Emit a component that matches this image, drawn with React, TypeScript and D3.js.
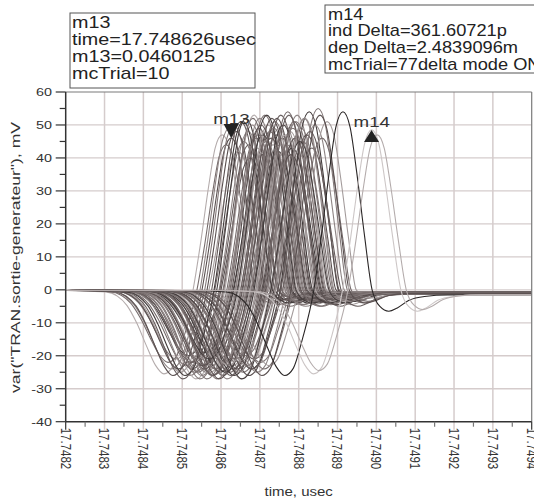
import React from 'react'
import * as d3 from 'd3'

const W = 534
const H = 501
const PLOT = { left: 65.7, right: 531.7, top: 92, bottom: 421.7 }
const FONT = 'Liberation Sans, Arial, sans-serif'

const X_TICKS = [17.7482, 17.7483, 17.7484, 17.7485, 17.7486, 17.7487, 17.7488, 17.7489, 17.749, 17.7491, 17.7492, 17.7493, 17.7494]
const X_LABELS = ['17.7482', '17.7483', '17.7484', '17.7485', '17.7486', '17.7487', '17.7488', '17.7489', '17.7490', '17.7491', '17.7492', '17.7493', '17.7494']
const Y_TICKS = [-40, -30, -20, -10, 0, 10, 20, 30, 40, 50, 60]

// pulse shape, ps relative to its peak, mV
const PULSE_PS = [-400, -300, -270, -245, -220, -195, -172, -150, -128, -105, -75, -55, -35, -18, 0, 18, 35, 55, 75, 95, 118, 140, 170, 210, 270]
const PULSE_MV = [-0.2, -0.6, -1.8, -4.5, -9.5, -16, -21.5, -24, -22, -14, 0, 15, 32, 44, 48, 44, 32, 15, 0, -3.5, -4.5, -3.8, -2.2, -1.4, -1.1]

// Monte Carlo trials: peak time (usec), peak, dip and undershoot (mV)
const PEAK_TIME = [
  17.748603, 17.748613, 17.748621, 17.748626, 17.748633, 17.748644, 17.748651, 17.748659, 17.748664, 17.74867,
  17.748675, 17.74868, 17.748685, 17.74869, 17.748693, 17.748698, 17.7487, 17.748706, 17.748708, 17.748713,
  17.748716, 17.748721, 17.748724, 17.748726, 17.748731, 17.748734, 17.748739, 17.748742, 17.748747, 17.748749,
  17.748754, 17.748757, 17.748762, 17.748765, 17.74877, 17.748772, 17.748778, 17.748783, 17.748788, 17.748791,
  17.748796, 17.748801, 17.748806, 17.748811, 17.748816, 17.748821, 17.748827, 17.748834, 17.748842, 17.74885,
  17.74886, 17.748873,
  17.748639, 17.748657, 17.748672, 17.748682, 17.748695, 17.748703, 17.748711, 17.748718, 17.748729, 17.748736,
  17.748744, 17.748752, 17.74876, 17.748767, 17.748775, 17.74878, 17.748785, 17.748793, 17.748803, 17.748814,
  17.748829, 17.748855,
  17.748914, 17.748988, 17.749002,
]
const PEAK_MV = [
  47, 44, 49, 46, 50, 42, 51, 45, 52, 48,
  40, 50, 53, 46, 43, 49, 52, 41, 47, 53,
  45, 50, 38, 48, 52, 44, 51, 47, 42, 49,
  53, 46, 40, 50, 44, 54, 48, 43, 51, 46,
  53, 41, 49, 45, 52, 47, 54, 43, 50, 55,
  46, 51,
  48, 51, 44, 52, 47, 50, 42, 53, 46, 49,
  52, 44, 50, 47, 53, 41, 49, 51, 45, 52,
  48, 53,
  54, 48.5, 47,
]
const DIP_MV = [
  -25.5, -22, -24, -26, -21, -25, -27, -23, -20, -26,
  -24, -22, -27, -25, -21, -23, -26, -24, -19, -27,
  -22, -25, -23, -26, -20, -24, -27, -21, -25, -23,
  -26, -22, -24, -27, -20, -25, -23, -26, -21, -24,
  -22, -27, -25, -20, -23, -26, -24, -21, -25, -22,
  -24, -23,
  -24, -26, -22, -25, -27, -23, -25, -21, -26, -24,
  -27, -22, -25, -23, -26, -24, -21, -25, -27, -23,
  -24, -26,
  -26, -25.5, -24.5,
]
const UNDER_MV = [
  -3, -4, -2.5, -3.5, -4.5, -2, -3, -5, -3.5, -2.5,
  -4, -3, -2, -4.5, -3.5, -3, -5, -2.5, -4, -3,
  -3.5, -2, -4.5, -3, -4, -2.5, -3.5, -5, -3, -2,
  -4, -3.5, -2.5, -4.5, -3, -4, -2, -3.5, -5, -3,
  -2.5, -4, -3.5, -3, -4.5, -2, -3.5, -5, -3, -4,
  -3.5, -2.5,
  -3, -4, -2.5, -3.5, -4.5, -3, -2, -4, -3.5, -5,
  -3, -2.5, -4, -3.5, -3, -4.5, -2.5, -3, -4, -3.5,
  -2.5, -4,
  -6.5, -6.5, -6,
]
const SHADE = [
  5, 1, 2, 0, 6, 3, 7, 1, 4, 2,
  0, 6, 5, 1, 3, 7, 2, 0, 4, 6,
  1, 3, 5, 7, 0, 2, 6, 1, 4, 3,
  7, 0, 5, 2, 6, 1, 3, 4, 7, 0,
  2, 5, 6, 1, 3, 0, 4, 7, 2, 6,
  1, 3,
  0, 4, 7, 1, 6, 0, 2, 4, 7, 1,
  0, 6, 4, 3, 7, 0, 1, 6, 4, 2,
  7, 0,
  8, 9, 5,
]
const PALETTE = ['#5a5050', '#776d6d', '#8e8585', '#a39b9b', '#433c3c', '#b4acac', '#847a7a', '#665c5c', '#2a2626', '#cdc7c7']

const M13 = { time: 17.748626, value: 46.0125 }
const M14 = { time: 17.748626 + 361.60721e-6, value: 46.0125 + 2.4839096 }
const M13_LINES = ['m13', 'time=17.748626usec', 'm13=0.0460125', 'mcTrial=10']
const M14_LINES = ['m14', 'ind Delta=361.60721p', 'dep Delta=2.4839096m', 'mcTrial=77delta mode ON']

const PEAK_IDX = PULSE_MV.indexOf(48)

function buildTrace(i: number): [number, number][] {
  const pts: [number, number][] = [[17.7482, -0.2]]
  PULSE_PS.forEach((ps, k) => {
    let v = PULSE_MV[k]
    if (v >= 0) v = (v * PEAK_MV[i]) / 48
    else if (k < PEAK_IDX) v = (v * DIP_MV[i]) / -24
    else v = (v * UNDER_MV[i]) / -4.5
    const t = PEAK_TIME[i] + ps * 1e-6
    if (t > 17.7482) pts.push([t, v])
  })
  pts.push([17.7494, pts[pts.length - 1][1]])
  return pts
}

export default function App() {
  const x = d3.scaleLinear().domain([17.7482, 17.7494]).range([PLOT.left, PLOT.right])
  const y = d3.scaleLinear().domain([-40, 60]).range([PLOT.bottom, PLOT.top])
  const line = d3
    .line<[number, number]>()
    .x((d) => x(d[0]))
    .y((d) => y(d[1]))
    .curve(d3.curveMonotoneX)

  const grid = '#d5cccc'
  const minorX = X_TICKS.slice(0, -1).map((t, i) => (t + X_TICKS[i + 1]) / 2)
  const minorY = Y_TICKS.slice(0, -1).map((t, i) => (t + Y_TICKS[i + 1]) / 2)

  const mx13 = x(M13.time)
  const my13 = y(M13.value)
  const mx14 = x(M14.time)
  const my14 = y(M14.value)

  return (
    <svg width={W} height={H} style={{ position: 'absolute', left: 0, top: 0, background: '#fff' }} fontFamily={FONT}>
      <defs>
        <clipPath id="plotclip">
          <rect x={PLOT.left} y={PLOT.top} width={PLOT.right - PLOT.left} height={PLOT.bottom - PLOT.top} />
        </clipPath>
      </defs>

      {/* grid */}
      {Y_TICKS.slice(1, -1).map((v) => (
        <line key={'gy' + v} x1={PLOT.left} x2={PLOT.right} y1={y(v)} y2={y(v)} stroke={grid} strokeWidth={1.3} />
      ))}
      {X_TICKS.slice(1, -1).map((t) => (
        <line key={'gx' + t} x1={x(t)} x2={x(t)} y1={PLOT.top} y2={PLOT.bottom + 8} stroke={grid} strokeWidth={1.5} />
      ))}

      {/* traces */}
      <g clipPath="url(#plotclip)" fill="none">
        {PEAK_TIME.map((_, i) => (
          <path key={i} d={line(buildTrace(i)) || ''} stroke={PALETTE[SHADE[i]]} strokeWidth={1.1} />
        ))}
      </g>

      {/* frame */}
      <line x1={PLOT.left} x2={PLOT.right} y1={PLOT.top} y2={PLOT.top} stroke="#7a7a7a" strokeWidth={1.2} />
      <line x1={PLOT.right} x2={PLOT.right} y1={PLOT.top} y2={PLOT.bottom} stroke="#7a7a7a" strokeWidth={1.2} />
      <line x1={PLOT.left} x2={PLOT.left} y1={PLOT.top} y2={PLOT.bottom} stroke="#333" strokeWidth={1.5} />
      <line x1={PLOT.left} x2={PLOT.right} y1={PLOT.bottom} y2={PLOT.bottom} stroke="#333" strokeWidth={1.5} />

      {/* ticks */}
      {Y_TICKS.map((v) => (
        <line key={'ty' + v} x1={PLOT.left - 10} x2={PLOT.left} y1={y(v)} y2={y(v)} stroke="#333" strokeWidth={1.2} />
      ))}
      {minorY.map((v) => (
        <line key={'my' + v} x1={PLOT.left - 6} x2={PLOT.left} y1={y(v)} y2={y(v)} stroke="#333" strokeWidth={1.2} />
      ))}
      {[X_TICKS[0], X_TICKS[X_TICKS.length - 1]].map((t) => (
        <line key={'tx' + t} x1={x(t)} x2={x(t)} y1={PLOT.bottom} y2={PLOT.bottom + 8} stroke="#333" strokeWidth={1.2} />
      ))}
      {minorX.map((t) => (
        <line key={'mx' + t} x1={x(t)} x2={x(t)} y1={PLOT.bottom} y2={PLOT.bottom + 5} stroke="#777" strokeWidth={1.2} />
      ))}

      {/* tick labels */}
      {Y_TICKS.map((v) => (
        <text key={'ly' + v} transform={`translate(52,${y(v)}) scale(1.25,1)`} textAnchor="end" dy="0.35em" fontSize={11.5} fill="#333">
          {v}
        </text>
      ))}
      {X_TICKS.map((t, i) => (
        <text key={'lx' + t} transform={`translate(${x(t)},${PLOT.bottom + 6}) scale(1.25,1) rotate(90)`} dy="0.35em" fontSize={11.5} fill="#333">
          {X_LABELS[i]}
        </text>
      ))}

      {/* axis titles */}
      <text transform={`translate(${(PLOT.left + PLOT.right) / 2},496) scale(1.25,1)`} textAnchor="middle" fontSize={12} fill="#333">
        time, usec
      </text>
      <text transform={`translate(20,${(122 + 393) / 2}) rotate(-90)`} textAnchor="middle" fontSize={13} fill="#333" textLength={271} lengthAdjust="spacingAndGlyphs">
        var("TRAN.sortie-generateur"), mV
      </text>

      {/* markers */}
      <path d={`M${mx13},${my13} L${mx13 - 7.5},${my13 - 14} L${mx13 + 7.5},${my13 - 14} Z`} fill="#222" />
      <text transform={`translate(${mx13 - 18},${my13 - 14}) scale(1.25,1)`} fontSize={15} fill="#333">m13</text>
      <path d={`M${mx14},${my14} L${mx14 - 7.5},${my14 + 12} L${mx14 + 7.5},${my14 + 12} Z`} fill="#222" />
      <text transform={`translate(${mx14 - 18},${my14 - 3}) scale(1.25,1)`} fontSize={15} fill="#333">m14</text>

      {/* marker readouts */}
      <rect x={70} y={13} width={185} height={75} fill="#fff" stroke="#555" strokeWidth={1} />
      {M13_LINES.map((s, i) => (
        <text key={'a' + i} transform={`translate(72,${28 + i * 17}) scale(1.235,1)`} fontSize={16} fill="#222">{s}</text>
      ))}
      <rect x={325} y={5} width={215} height={68} fill="#fff" stroke="#555" strokeWidth={1} />
      {M14_LINES.map((s, i) => (
        <text key={'b' + i} transform={`translate(328,${19.5 + i * 16.7}) scale(1.14,1)`} fontSize={16} fill="#222">{s}</text>
      ))}
    </svg>
  )
}
